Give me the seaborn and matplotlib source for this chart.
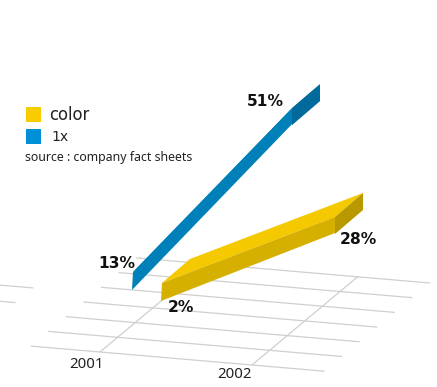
import matplotlib
matplotlib.use("Agg")
import matplotlib.pyplot as plt
import pandas as pd
import seaborn as sns
from matplotlib.patches import Rectangle

# Chart values
years = [2001, 2002]
color_share = [2, 28]
one_x_share = [13, 51]
series_names = ["color", "1x"]
source_note = "source : company fact sheets"

# Shaded faces of each ribbon: top, front, side
yellow_faces = ["#F5C900", "#D6B000", "#B89A00"]
blue_faces = ["#0090C8", "#0080B8", "#006A9C"]
legend_colors = ["#F8CC00", "#0090D8"]
grid_color = "#CFCFCF"

# Oblique projection, in pixels of the 437x387 canvas
W, H = 437, 387
FLOOR_ORIGIN = (100, 352)
YEAR_VEC = (152, 13)
DEPTH_VEC = (17.6, -14.7)
EXTRUDE = (28, -24)
THICK = 17


def px(size):
    return size * 0.72


def floor(t, d):
    return (FLOOR_ORIGIN[0] + YEAR_VEC[0] * t + DEPTH_VEC[0] * d,
            FLOOR_ORIGIN[1] + YEAR_VEC[1] * t + DEPTH_VEC[1] * d)


sns.set_theme(style="white")
plt.rcParams["font.family"] = ["DejaVu Sans"]
fig = plt.figure(figsize=(W / 100, H / 100), dpi=100)
ax = fig.add_axes([0, 0, 1, 1])

# Floor grid: rows across the years, plus one rail per year
rows = []
segments = [(d, -0.454, 1.474) for d in range(7)] + [(2.6, -0.96, -0.86), (3.6, -1.075, -0.858)]
for i, (d, t0, t1) in enumerate(segments):
    for t in (t0, t1):
        x, y = floor(t, d)
        rows.append({"x": x, "y": y, "line": f"r{i}"})
for t in (0, 1):
    for d in (0, 6):
        x, y = floor(t, d)
        rows.append({"x": x, "y": y, "line": f"y{t}"})
grid = pd.DataFrame(rows)
sns.lineplot(data=grid, x="x", y="y", units="line", estimator=None, sort=False,
             color=grid_color, linewidth=0.9, ax=ax, zorder=1)


def ribbon(values, x0, dx, y0, drop, k, faces):
    """Draw an extruded ribbon whose top edge follows the given values."""
    pts = [(x0 + dx * (yr - years[0]), y0 + drop * (yr - years[0]) - k * v)
           for yr, v in zip(years, values)]
    (xa, ya), (xb, yb) = pts
    ex, ey = EXTRUDE
    ax.fill([xa, xa + ex, xb + ex, xb], [ya, ya + ey, yb + ey, yb], color=faces[0], lw=0, zorder=3)
    ax.fill([xb, xb + ex, xb + ex, xb], [yb, yb + ey, yb + ey + THICK, yb + THICK],
            color=faces[2], lw=0, zorder=3)
    ax.fill([xa, xb, xb, xa - 1], [ya, yb, yb + THICK - 1, ya + THICK + 1],
            color=faces[1], lw=0, zorder=4)
    return pts


ribbon(one_x_share, 133, 159, 332.7, 13.6, 4.67, blue_faces)
ribbon(color_share, 162, 173, 289.2, 15, 3.115, yellow_faces)

# Value labels
label_kw = dict(fontweight="bold", fontsize=px(15.5), color="#111111",
                ha="center", va="center", zorder=6)
ax.text(117, 263, f"{one_x_share[0]}%", **label_kw)
ax.text(265, 101, f"{one_x_share[1]}%", **label_kw)
ax.text(181, 307, f"{color_share[0]}%", **label_kw)
ax.text(358, 240, f"{color_share[1]}%", **label_kw)

# Year labels under the rails
year_kw = dict(family="Noto Sans", fontsize=px(15), color="#222222",
               ha="center", va="center", zorder=6)
ax.text(86, 365, str(years[0]), **year_kw)
ax.text(234, 374, str(years[1]), **year_kw)

# Legend and source note
ax.add_patch(Rectangle((26, 107), 15, 15, color=legend_colors[0], lw=0, zorder=5))
ax.add_patch(Rectangle((26, 129), 15, 15, color=legend_colors[1], lw=0, zorder=5))
ax.text(49, 115, series_names[0], fontsize=px(16.5), color="#222222", va="center", ha="left")
ax.text(51, 137, series_names[1], fontsize=px(14), color="#222222", va="center", ha="left")
ax.text(25, 157, source_note, family="Noto Sans", fontsize=px(12.3), color="#222222",
        va="center", ha="left")

ax.set_xlim(0, W)
ax.set_ylim(H, 0)
ax.set_xlabel("")
ax.set_ylabel("")
ax.axis("off")
fig.savefig("out.png", dpi=100)
